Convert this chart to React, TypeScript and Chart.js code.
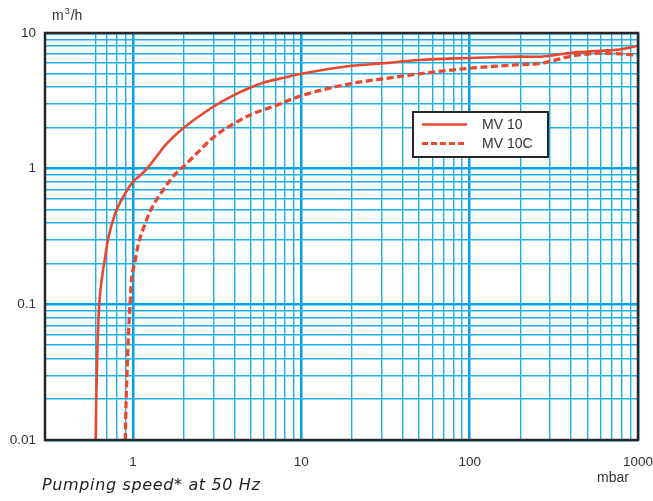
import React, { useEffect, useRef } from "react";
import { Chart, registerables } from "chart.js";

Chart.register(...registerables);

// MV 10 (solid)
const mv10X = [0.6, 0.605, 0.615, 0.63, 0.66, 0.68, 0.71, 0.78, 0.9, 1.0, 1.1, 1.21, 1.38, 1.58, 2, 3, 4, 5, 6, 8, 10, 20, 30, 50, 100, 150, 200, 250, 300, 400, 600, 800, 1000];
const mv10Y = [0.01, 0.02, 0.05, 0.1, 0.17, 0.215, 0.3, 0.46, 0.66, 0.8, 0.89, 1.0, 1.23, 1.52, 2.0, 2.86, 3.5, 3.97, 4.32, 4.7, 5.0, 5.74, 5.97, 6.33, 6.55, 6.65, 6.7, 6.68, 6.8, 7.14, 7.4, 7.6, 8.05];

// MV 10C (dashed)
const mv10cX = [0.9, 0.905, 0.92, 0.94, 0.96, 0.98, 1.03, 1.07, 1.15, 1.28, 1.55, 1.82, 2, 2.34, 3, 4, 5, 7, 10, 20, 30, 50, 100, 200, 260, 300, 400, 500, 600, 800, 1000];
const mv10cY = [0.01, 0.015, 0.03, 0.06, 0.1, 0.15, 0.21, 0.27, 0.36, 0.5, 0.73, 0.94, 1.04, 1.26, 1.7, 2.16, 2.5, 2.91, 3.45, 4.25, 4.58, 5.0, 5.5, 5.85, 5.95, 6.17, 6.75, 7.0, 7.1, 7.0, 6.85];

const xGridValues = [0.6, 0.7, 0.8, 0.9, 1, 2, 3, 4, 5, 6, 7, 8, 9, 10, 20, 30, 40, 50, 60, 70, 80, 90, 100, 200, 300, 400, 500, 600, 700, 800, 900, 1000];
const yGridValues = [0.01, 0.02, 0.03, 0.04, 0.05, 0.06, 0.07, 0.08, 0.09, 0.1, 0.2, 0.3, 0.4, 0.5, 0.6, 0.7, 0.8, 0.9, 1, 2, 3, 4, 5, 6, 7, 8, 9, 10];
const xTickLabels = ["1", "10", "100", "1000"];
const yTickLabels = ["0.01", "0.1", "1", "10"];

const seriesNames = ["MV 10", "MV 10C"];
const yUnitBase = "m";
const yUnitSup = "3";
const yUnitRest = "/h";
const xUnit = "mbar";
const caption = "Pumping speed* at 50 Hz";

const RED = "#e9482f";
const GRID = "#1cb0ea";
const GRID_MAJOR = "#00a3e2";
const DARK = "#2a2627";
const TEXT = "#333333";
const FONT = "'Liberation Sans', Arial, sans-serif";

const isDecade = (v: number) => Math.abs(Math.log10(v) - Math.round(Math.log10(v))) < 1e-9;

export default function App() {
  const ref = useRef<HTMLCanvasElement | null>(null);
  useEffect(() => {
    if (!ref.current) return;
    const overlay = {
      id: "overlay",
      afterDraw(chart: any) {
        const ctx = chart.ctx as CanvasRenderingContext2D;
        const a = chart.chartArea;
        ctx.save();
        // frame
        ctx.strokeStyle = DARK;
        ctx.lineWidth = 2.5;
        ctx.strokeRect(a.left, a.top, a.right - a.left, a.bottom - a.top);
        // legend
        const lx = 413, ly = 112, lw = 135, lh = 45;
        ctx.fillStyle = "#ffffff";
        ctx.fillRect(lx, ly, lw, lh);
        ctx.strokeStyle = DARK;
        ctx.lineWidth = 2;
        ctx.strokeRect(lx, ly, lw, lh);
        ctx.strokeStyle = RED;
        ctx.lineWidth = 2.5;
        ctx.beginPath();
        ctx.moveTo(422, 124.5);
        ctx.lineTo(467, 124.5);
        ctx.stroke();
        ctx.lineWidth = 3;
        ctx.setLineDash([6, 3]);
        ctx.beginPath();
        ctx.moveTo(422, 143.5);
        ctx.lineTo(467, 143.5);
        ctx.stroke();
        ctx.setLineDash([]);
        ctx.fillStyle = TEXT;
        ctx.font = `14px ${FONT}`;
        ctx.textBaseline = "middle";
        ctx.textAlign = "left";
        ctx.fillText(seriesNames[0], 482, 125);
        ctx.fillText(seriesNames[1], 482, 144);
        // units
        ctx.textBaseline = "alphabetic";
        ctx.font = `14px ${FONT}`;
        ctx.fillText(yUnitBase, 52, 20);
        let ux = 52 + ctx.measureText(yUnitBase).width + 1;
        ctx.font = `9px ${FONT}`;
        ctx.fillText(yUnitSup, ux, 14);
        ux += ctx.measureText(yUnitSup).width + 1;
        ctx.font = `14px ${FONT}`;
        ctx.fillText(yUnitRest, ux, 20);
        ctx.textBaseline = "middle";
        ctx.fillText(xUnit, 597, 478);
        // caption
        ctx.font = `oblique 16px 'DejaVu Sans', sans-serif`;
        const w = ctx.measureText(caption).width;
        const extra = (218 - w) / (caption.length - 1);
        (ctx as any).letterSpacing = `${Math.max(-0.8, Math.min(1.2, extra)).toFixed(2)}px`;
        ctx.fillStyle = "#222";
        ctx.textBaseline = "alphabetic";
        ctx.fillText(caption, 42, 490);
        (ctx as any).letterSpacing = "0px";
        ctx.restore();
      },
    };

    const gridOpts = {
      drawTicks: false,
      color: (c: any) => (c.tick && isDecade(c.tick.value) ? GRID_MAJOR : GRID),
      lineWidth: (c: any) => (c.tick && isDecade(c.tick.value) ? 2.5 : 1.4),
    };

    const chart = new Chart(ref.current, {
      type: "scatter",
      data: {
        datasets: [
          {
            label: seriesNames[0],
            data: mv10X.map((x, i) => ({ x, y: mv10Y[i] })),
            showLine: true,
            borderColor: RED,
            backgroundColor: RED,
            borderWidth: 2.6,
            pointRadius: 0,
            cubicInterpolationMode: "monotone",
          },
          {
            label: seriesNames[1],
            data: mv10cX.map((x, i) => ({ x, y: mv10cY[i] })),
            showLine: true,
            borderColor: RED,
            backgroundColor: RED,
            borderWidth: 3.3,
            borderDash: [7, 3.5],
            pointRadius: 0,
            cubicInterpolationMode: "monotone",
          },
        ],
      },
      options: {
        animation: false,
        responsive: false,
        devicePixelRatio: 1,
        layout: { padding: { top: 33, right: 15, left: 0, bottom: 0 } },
        plugins: { legend: { display: false }, tooltip: { enabled: false } },
        scales: {
          x: {
            type: "logarithmic",
            min: 0.3,
            max: 1000,
            afterBuildTicks: (s: any) => {
              s.ticks = xGridValues.map((v) => ({ value: v }));
            },
            afterFit: (s: any) => {
              s.height = 61;
              s.paddingLeft = 0;
              s.paddingRight = 0;
            },
            border: { display: false },
            grid: gridOpts,
            ticks: {
              autoSkip: false,
              maxRotation: 0,
              padding: 14,
              color: TEXT,
              font: { family: FONT, size: 13.5 },
              callback: (v: any) => {
                const s = String(Number(v));
                return xTickLabels.includes(s) ? s : "";
              },
            },
          },
          y: {
            type: "logarithmic",
            min: 0.01,
            max: 10,
            afterBuildTicks: (s: any) => {
              s.ticks = yGridValues.map((v) => ({ value: v }));
            },
            afterFit: (s: any) => {
              s.width = 45;
              s.paddingTop = 0;
              s.paddingBottom = 0;
            },
            border: { display: false },
            grid: gridOpts,
            ticks: {
              autoSkip: false,
              padding: 9,
              color: TEXT,
              font: { family: FONT, size: 13.5 },
              callback: (v: any) => {
                const s = String(Number(v));
                return yTickLabels.includes(s) ? s : "";
              },
            },
          },
        },
      },
      plugins: [overlay],
    } as any);
    return () => chart.destroy();
  }, []);

  return (
    <div style={{ position: "absolute", left: 0, top: 0, width: 653, height: 501, background: "#fff" }}>
      <canvas ref={ref} width={653} height={501} style={{ display: "block", width: 653, height: 501 }} />
    </div>
  );
}
